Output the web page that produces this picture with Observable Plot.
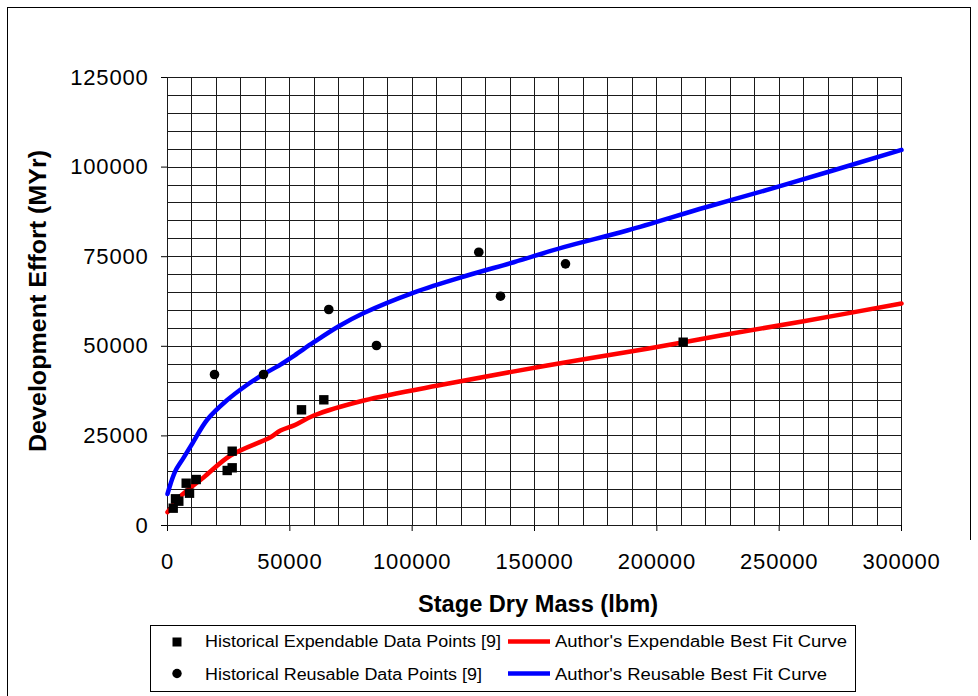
<!DOCTYPE html>
<html>
<head>
<meta charset="utf-8">
<script src="https://cdn.jsdelivr.net/npm/d3@7"></script>
<script src="https://cdn.jsdelivr.net/npm/@observablehq/plot@0.6"></script>
<style>
  html, body { margin: 0; padding: 0; background: #fff; }
  #wrap { position: relative; width: 978px; height: 696px; overflow: hidden; font-family: "Liberation Sans", Arial, sans-serif; }
  #frameL { position: absolute; left: 7px; top: 7px; width: 0; height: 700px; border-left: 1.5px solid #000; }
  #frameT { position: absolute; left: 7px; top: 7px; width: 964px; height: 0; border-top: 1.5px solid #000; }
  #frameR { position: absolute; left: 970px; top: 7px; width: 0; height: 533px; border-left: 1.5px solid #000; }
  #chart { position: absolute; left: 0; top: 0; }
  #legend { position: absolute; left: 150px; top: 625px; width: 706px; height: 67px; border: 1px solid #000; box-sizing: border-box; background: #fff; }
  g[aria-label^="x-axis"] text, g[aria-label^="y-axis"] text { letter-spacing: 0.8px; }
</style>
</head>
<body>
<div id="wrap">
  <div id="frameL"></div>
  <div id="frameT"></div>
  <div id="frameR"></div>
  <div id="chart"></div>
  <div id="legend"></div>
</div>
<script>
// ---- Data ----
const expendableMass   = [2330, 3270, 4620, 7640, 9000, 11730, 24400, 26440, 26440, 54770, 63890, 210770];
const expendableEffort = [4830, 7450, 6780, 11800, 9010, 12830, 15350, 16100, 20730, 32280, 35070, 51140];

const reusableMass   = [19210, 39240, 65920, 85420, 127230, 136100, 162670];
const reusableEffort = [42130, 42130, 60270, 50220, 76250, 63980, 73010];

const expCurveMass   = [0, 1230, 4000, 8050, 14840, 25750, 42100, 46180, 52000, 59800, 80230, 114300, 155190, 196060, 226000, 260000, 300000];
const expCurveEffort = [3700, 4800, 7300, 9770, 13480, 19530, 24640, 26500, 28000, 30690, 34880, 39530, 44640, 49300, 53010, 57000, 61940];

const reuCurveMass   = [0, 1230, 3270, 6670, 10100, 16220, 24400, 32000, 39240, 46180, 52000, 59800, 70000, 80230, 100660, 122490, 141540, 161970, 187880, 220000, 250000, 300000];
const reuCurveEffort = [8800, 11600, 15300, 19000, 22800, 29500, 35000, 39000, 42200, 44900, 47500, 51140, 55600, 59300, 65000, 69750, 73460, 77650, 82300, 88800, 94600, 104800];

const xTicks = [0, 50000, 100000, 150000, 200000, 250000, 300000];
const yTicks = [0, 25000, 50000, 75000, 100000, 125000];
const xGrid = d3.range(0, 300001, 10000);
const yGrid = d3.range(0, 125001, 5000);

const xTitle = "Stage Dry Mass (lbm)";
const yTitle = "Development Effort (MYr)";
const legendLabels = [
  "Historical Expendable Data Points [9]",
  "Author's Expendable Best Fit Curve",
  "Historical Reusable Data Points [9]",
  "Author's Reusable Best Fit Curve"
];

// ---- Build tables ----
const expPts = expendableMass.map((m, i) => ({m, e: expendableEffort[i]}));
const reuPts = reusableMass.map((m, i) => ({m, e: reusableEffort[i]}));
const expCurve = expCurveMass.map((m, i) => ({m, e: expCurveEffort[i]}));
const reuCurve = reuCurveMass.map((m, i) => ({m, e: reuCurveEffort[i]}));

const chart = Plot.plot({
  width: 978,
  height: 620,
  marginLeft: 167,
  marginRight: 77,
  marginTop: 77,
  marginBottom: 95,
  style: { fontFamily: "'Liberation Sans', Arial, sans-serif", fontSize: "22px", color: "#000", background: "transparent", overflow: "visible" },
  x: { domain: [0, 300000], ticks: xTicks, tickFormat: d => String(d), tickSize: 6, tickPadding: 22, label: null },
  y: { domain: [0, 125000], ticks: yTicks, tickFormat: d => String(d), tickSize: 6, tickPadding: 13, label: null },
  marks: [
    Plot.ruleX(xGrid, { stroke: "#1a1a1a", strokeWidth: 1, shapeRendering: "crispEdges" }),
    Plot.ruleY(yGrid, { stroke: "#1a1a1a", strokeWidth: 1, shapeRendering: "crispEdges" }),
    Plot.line(expCurve, { x: "m", y: "e", stroke: "#ff0000", strokeWidth: 4.5, curve: "catmull-rom" }),
    Plot.line(reuCurve, { x: "m", y: "e", stroke: "#0000ff", strokeWidth: 4.5, curve: "catmull-rom" }),
    Plot.dot(expPts, { x: "m", y: "e", symbol: "square", fill: "#000", r: 5.3 }),
    Plot.dot(reuPts, { x: "m", y: "e", symbol: "circle", fill: "#000", r: 4.8 })
  ]
});
document.getElementById("chart").appendChild(chart);

// Axis titles
const svg = d3.select(chart);
svg.append("text")
  .attr("x", 538).attr("y", 612)
  .attr("text-anchor", "middle")
  .attr("font-weight", "bold").attr("font-size", 23)
  .attr("textLength", 240).attr("lengthAdjust", "spacingAndGlyphs")
  .attr("fill", "#000")
  .text(xTitle);
svg.append("text")
  .attr("transform", "translate(46,301) rotate(-90)")
  .attr("text-anchor", "middle")
  .attr("font-weight", "bold").attr("font-size", 23.5)
  .attr("textLength", 302).attr("lengthAdjust", "spacingAndGlyphs")
  .attr("fill", "#000")
  .text(yTitle);

// Legend
const lg = d3.select("#legend").append("svg")
  .attr("width", 704).attr("height", 65)
  .style("font-family", "'Liberation Sans', Arial, sans-serif")
  .style("font-size", "16px");
lg.append("rect").attr("x", 21.5).attr("y", 11.5).attr("width", 9).attr("height", 9).attr("fill", "#000");
lg.append("circle").attr("cx", 26).attr("cy", 47.5).attr("r", 4.7).attr("fill", "#000");
lg.append("line").attr("x1", 357).attr("x2", 399).attr("y1", 15.5).attr("y2", 15.5).attr("stroke", "#ff0000").attr("stroke-width", 4.5);
lg.append("line").attr("x1", 357).attr("x2", 399).attr("y1", 47.5).attr("y2", 47.5).attr("stroke", "#0000ff").attr("stroke-width", 4.5);
const lt = [
  { t: legendLabels[0], x: 54, y: 21, w: 296 },
  { t: legendLabels[1], x: 404, y: 21, w: 292 },
  { t: legendLabels[2], x: 54, y: 53.5, w: 277 },
  { t: legendLabels[3], x: 404, y: 53.5, w: 272 }
];
lt.forEach(d => {
  lg.append("text").attr("x", d.x).attr("y", d.y)
    .attr("textLength", d.w).attr("lengthAdjust", "spacingAndGlyphs")
    .attr("fill", "#000").text(d.t);
});
</script>
</body>
</html>
